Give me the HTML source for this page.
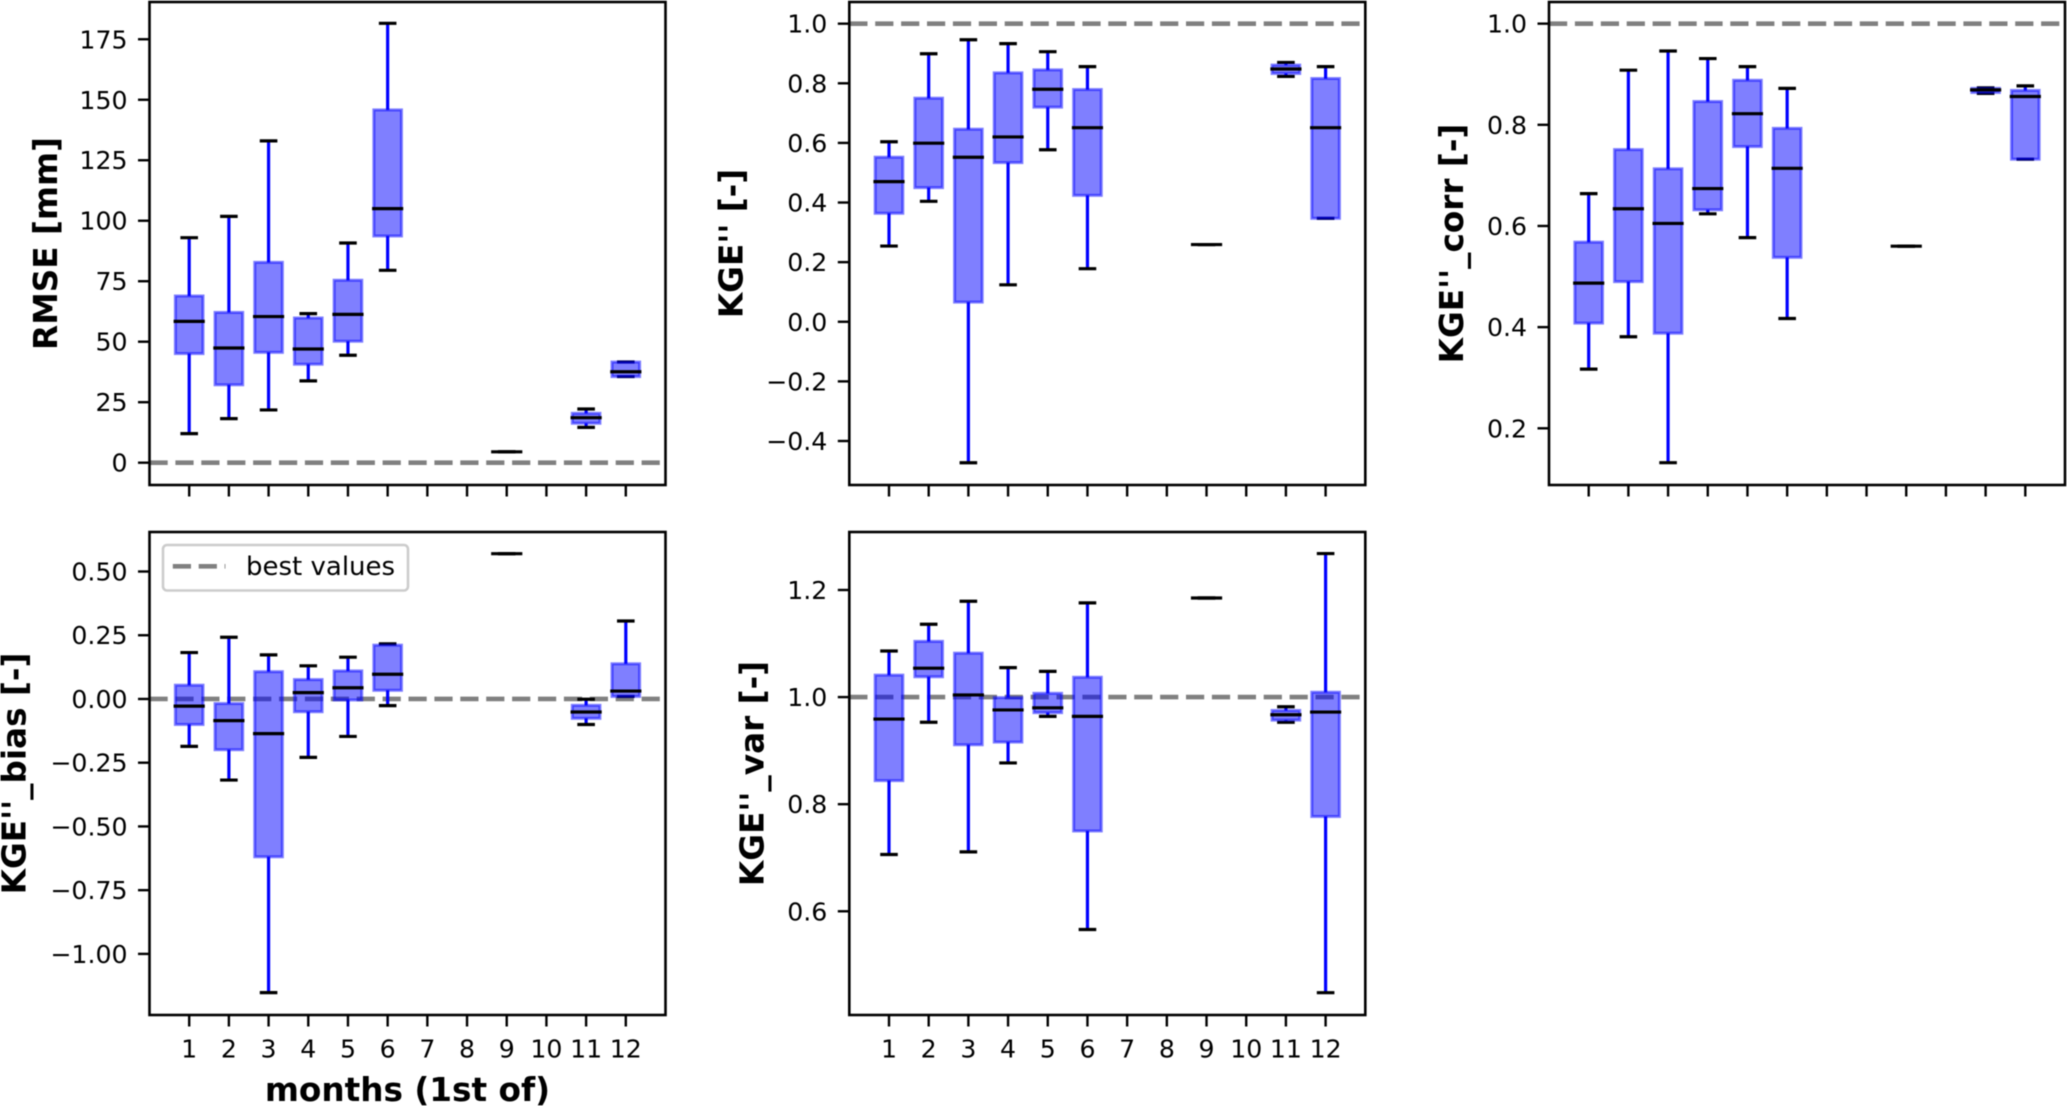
<!DOCTYPE html>
<html lang="en">
<head>
<meta charset="utf-8">
<title>Monthly KGE and RMSE box plots</title>
<style>
html,body{margin:0;padding:0;background:#fff;width:2067px;height:1106px;overflow:hidden}
svg{display:block;filter:blur(0.5px)}
text{font-family:"DejaVu Sans","Liberation Sans",sans-serif;fill:#000}
</style>
</head>
<body>
<svg id="chart" xmlns="http://www.w3.org/2000/svg" width="2067" height="1106" viewBox="0 0 2067 1106"></svg>
<script>
var monthLabels = ["1","2","3","4","5","6","7","8","9","10","11","12"];

var rmseLow    = [12.0,18.2,21.8,33.8,44.4,79.5,null,null,4.5,null,14.6,35.6];
var rmseQ1     = [45.1,32.2,45.6,40.7,50.2,93.7,null,null,4.5,null,16.3,35.6];
var rmseMedian = [58.4,47.4,60.4,47.0,61.3,105.0,null,null,4.5,null,18.6,37.6];
var rmseQ3     = [68.9,62.1,82.8,59.8,75.4,145.8,null,null,4.5,null,20.4,41.6];
var rmseHigh   = [93.0,101.8,133.0,61.6,90.8,181.6,null,null,4.5,null,22.2,41.6];
var rmseTicks  = [0,25,50,75,100,125,150,175];
var rmseTickLabels = ["0","25","50","75","100","125","150","175"];

var kgeLow    = [0.254,0.404,-0.473,0.124,0.577,0.178,null,null,0.259,null,0.823,0.347];
var kgeQ1     = [0.364,0.450,0.066,0.534,0.720,0.424,null,null,0.259,null,0.833,0.347];
var kgeMedian = [0.470,0.599,0.552,0.620,0.780,0.651,null,null,0.259,null,0.848,0.651];
var kgeQ3     = [0.552,0.750,0.646,0.835,0.845,0.779,null,null,0.259,null,0.861,0.816];
var kgeHigh   = [0.604,0.899,0.946,0.933,0.906,0.856,null,null,0.259,null,0.870,0.856];
var kgeTicks  = [-0.4,-0.2,0,0.2,0.4,0.6,0.8,1.0];
var kgeTickLabels = ["\u22120.4","\u22120.2","0.0","0.2","0.4","0.6","0.8","1.0"];

var corrLow    = [0.317,0.381,0.132,0.624,0.577,0.417,null,null,0.560,null,0.862,0.732];
var corrQ1     = [0.408,0.490,0.388,0.632,0.757,0.538,null,null,0.560,null,0.864,0.732];
var corrMedian = [0.487,0.634,0.605,0.674,0.822,0.714,null,null,0.560,null,0.869,0.856];
var corrQ3     = [0.568,0.751,0.713,0.846,0.888,0.793,null,null,0.560,null,0.872,0.868];
var corrHigh   = [0.664,0.908,0.946,0.931,0.915,0.872,null,null,0.560,null,0.873,0.877];
var corrTicks  = [0.2,0.4,0.6,0.8,1.0];
var corrTickLabels = ["0.2","0.4","0.6","0.8","1.0"];

var biasLow    = [-0.186,-0.318,-1.152,-0.229,-0.147,-0.026,null,null,0.570,null,-0.100,0.010];
var biasQ1     = [-0.100,-0.199,-0.619,-0.050,-0.004,0.034,null,null,0.570,null,-0.076,0.010];
var biasMedian = [-0.028,-0.085,-0.136,0.025,0.044,0.097,null,null,0.570,null,-0.051,0.031];
var biasQ3     = [0.054,-0.018,0.107,0.076,0.110,0.211,null,null,0.570,null,-0.025,0.138];
var biasHigh   = [0.182,0.242,0.173,0.130,0.164,0.216,null,null,0.570,null,-0.001,0.306];
var biasTicks  = [-1,-0.75,-0.5,-0.25,0,0.25,0.5];
var biasTickLabels = ["\u22121.00","\u22120.75","\u22120.50","\u22120.25","0.00","0.25","0.50"];

var varLow    = [0.706,0.953,0.711,0.877,0.964,0.566,null,null,1.185,null,0.953,0.448];
var varQ1     = [0.844,1.038,0.911,0.916,0.971,0.750,null,null,1.185,null,0.957,0.777];
var varMedian = [0.959,1.054,1.004,0.976,0.980,0.964,null,null,1.185,null,0.967,0.972];
var varQ3     = [1.041,1.104,1.082,0.999,1.007,1.037,null,null,1.185,null,0.975,1.009];
var varHigh   = [1.086,1.136,1.179,1.055,1.048,1.176,null,null,1.185,null,0.982,1.268];
var varTicks  = [0.6,0.8,1.0,1.2];
var varTickLabels = ["0.6","0.8","1.0","1.2"];

var SVGNS = "http://www.w3.org/2000/svg";
var chart = document.getElementById("chart");

function make(parent, tag, attrs, txt) {
  var el = document.createElementNS(SVGNS, tag);
  for (var k in attrs) { el.setAttribute(k, attrs[k]); }
  if (txt !== undefined) { el.textContent = txt; }
  parent.appendChild(el);
  return el;
}

function drawPanel(p) {
  var slug = p.slug;
  var width = 516, height = p.bottom - p.top;
  var xUnit = width / 13;
  function xScale(m) { return p.left + m * xUnit; }
  function yScale(v) { return p.bottom - (v - p.yMin) / (p.yMax - p.yMin) * height; }

  var g = make(chart, "g", {});
  
  

  var best = make(g, "line", {x1:p.left, x2:p.left + width, y1:yScale(p.best), y2:yScale(p.best), stroke:"#808080", "stroke-width":4.6, "stroke-dasharray":"18.2 7.7"});
  
  

  monthLabels.forEach(function (label, i) {
    if (p.median[i] === null) { return; }
    var m = i + 1, cx = xScale(m);
    var yLow = yScale(p.low[i]), yQ1 = yScale(p.q1[i]), yMed = yScale(p.median[i]), yQ3 = yScale(p.q3[i]), yHigh = yScale(p.high[i]);

    var wh = make(g, "line", {x1:cx, x2:cx, y1:yQ3, y2:yHigh, stroke:"#0000ff", "stroke-width":3.2});
    
    

    var wl = make(g, "line", {x1:cx, x2:cx, y1:yQ1, y2:yLow, stroke:"#0000ff", "stroke-width":3.2});
    
    

    var ch = make(g, "line", {x1:cx - 8.8, x2:cx + 8.8, y1:yHigh, y2:yHigh, stroke:"#000", "stroke-width":3.2});
    
    

    var cl = make(g, "line", {x1:cx - 8.8, x2:cx + 8.8, y1:yLow, y2:yLow, stroke:"#000", "stroke-width":3.2});
    
    

    var box = make(g, "rect", {x:cx - 13.8, y:yQ3, width:27.6, height:Math.max(0, yQ1 - yQ3), fill:"rgba(0,0,255,0.5)", stroke:"rgba(0,0,255,0.5)", "stroke-width":3});
    
    

    var med = make(g, "line", {x1:cx - 15.6, x2:cx + 15.6, y1:yMed, y2:yMed, stroke:"#000", "stroke-width":3.2});
    
    
  });

  monthLabels.forEach(function (label, i) {
    var tx = xScale(i + 1);
    var tick = make(g, "line", {x1:tx, x2:tx, y1:p.bottom, y2:p.bottom + 11.5, stroke:"#000", "stroke-width":2.4});
    
    
    if (p.showX) {
      var tl = make(g, "text", {x:tx, y:p.bottom + 42.5, "text-anchor":"middle", "font-size":25.2}, label);
      
      
    }
  });

  p.ticks.forEach(function (v, i) {
    var ty = yScale(v);
    var tick = make(g, "line", {x1:p.left - 11.5, x2:p.left, y1:ty, y2:ty, stroke:"#000", "stroke-width":2.4});
    
    
    var tl = make(g, "text", {x:p.left - 22, y:ty + 9, "text-anchor":"end", "font-size":25.2}, p.tickLabels[i]);
    
    
  });

  var frame = make(g, "rect", {x:p.left, y:p.top, width:width, height:height, fill:"none", stroke:"#000", "stroke-width":2.6});
  
  

  var yl = make(g, "text", {transform:"translate(" + p.labelX + "," + ((p.top + p.bottom) / 2) + ") rotate(-90)", "text-anchor":"middle", "font-size":32.7, "font-weight":"bold"}, p.label);
  
  
}

drawPanel({slug:"rmse", label:"RMSE [mm]", left:149.5, top:2, bottom:485, yMin:-9.22, yMax:190.4, best:0, labelX:57, showX:false,
  low:rmseLow, q1:rmseQ1, median:rmseMedian, q3:rmseQ3, high:rmseHigh, ticks:rmseTicks, tickLabels:rmseTickLabels});
drawPanel({slug:"kge", label:"KGE'' [-]", left:849.3, top:2, bottom:485, yMin:-0.5476, yMax:1.0727, best:1, labelX:742.5, showX:false,
  low:kgeLow, q1:kgeQ1, median:kgeMedian, q3:kgeQ3, high:kgeHigh, ticks:kgeTicks, tickLabels:kgeTickLabels});
drawPanel({slug:"kge-corr", label:"KGE''_corr [-]", left:1549, top:2, bottom:485, yMin:0.0879, yMax:1.0428, best:1, labelX:1463, showX:false,
  low:corrLow, q1:corrQ1, median:corrMedian, q3:corrQ3, high:corrHigh, ticks:corrTicks, tickLabels:corrTickLabels});
drawPanel({slug:"kge-bias", label:"KGE''_bias [-]", left:149.5, top:532, bottom:1015, yMin:-1.2397, yMax:0.655, best:0, labelX:25.5, showX:true,
  low:biasLow, q1:biasQ1, median:biasMedian, q3:biasQ3, high:biasHigh, ticks:biasTicks, tickLabels:biasTickLabels});
drawPanel({slug:"kge-var", label:"KGE''_var [-]", left:849.3, top:532, bottom:1015, yMin:0.4063, yMax:1.3083, best:1, labelX:763.5, showX:true,
  low:varLow, q1:varQ1, median:varMedian, q3:varQ3, high:varHigh, ticks:varTicks, tickLabels:varTickLabels});

var xTitle = make(chart, "text", {x:407.5, y:1101, "text-anchor":"middle", "font-size":32.7, "font-weight":"bold"}, "months (1st of)");



var legend = make(chart, "g", {});



var legendFrame = make(legend, "rect", {x:163, y:545, width:245, height:45.5, rx:4, ry:4, fill:"#fff", "fill-opacity":0.8, stroke:"#cccccc", "stroke-width":2.6});



var legendLine = make(legend, "line", {x1:172.8, x2:225.4, y1:566.3, y2:566.3, stroke:"#808080", "stroke-width":4.6, "stroke-dasharray":"18.2 7.7"});



var legendText = make(legend, "text", {x:246, y:575, "font-size":26}, "best values");


</script>
</body>
</html>
